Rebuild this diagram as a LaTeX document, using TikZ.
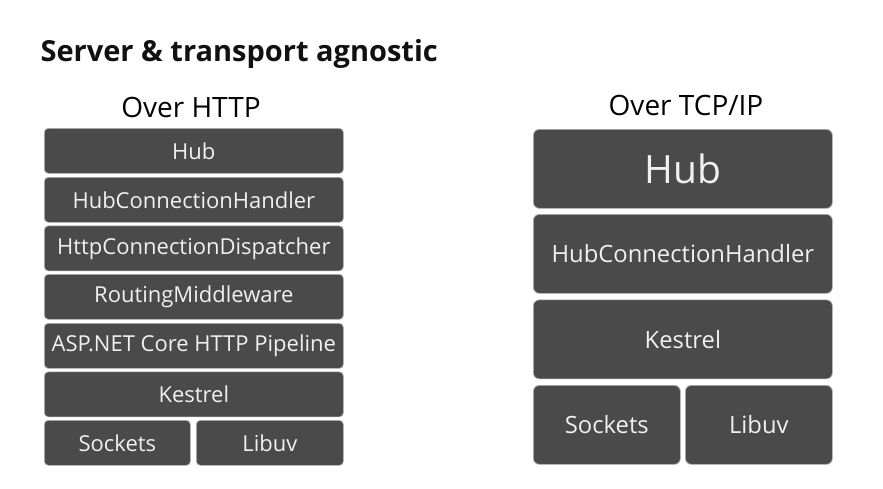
\documentclass[tikz,border=0pt]{standalone}
\usepackage{fontspec}
\setmainfont{Open Sans}
\begin{document}
\begin{tikzpicture}[x=1pt,y=-1pt,
  layer/.style={draw=black!30,line width=0.7pt,fill=boxgray,text=white!94!black,
    rounded corners=#1,inner sep=0pt,anchor=north west},
  layer/.default=4pt,
  smalltxt/.style={font=\fontsize{22}{25}\selectfont},
  bigtxt/.style={font=\fontsize{23.8}{27}\selectfont},
  hdr/.style={font=\fontsize{28}{32}\selectfont,anchor=base},
]
\definecolor{boxgray}{HTML}{4A4A4A}
\definecolor{titlegray}{HTML}{111111}
\useasboundingbox[fill=white] (0,0) rectangle (883,488);
\node[anchor=base west,text=titlegray,font=\bfseries\fontsize{29}{34}\selectfont] (title) at (37,61) {Server \& transport agnostic};
\node[hdr] (hhttp) at (191,117) {Over HTTP};
\node[hdr] (htcp) at (686,115) {Over TCP/IP};
% left stack
\node[layer,smalltxt,minimum width=299pt,minimum height=45pt] (lhub) at (44,128) {Hub};
\node[layer,smalltxt,minimum width=299pt,minimum height=45pt] (lhch) at (44,177) {HubConnectionHandler};
\node[layer,smalltxt,minimum width=299pt,minimum height=45pt] (lhcd) at (44,225.5) {HttpConnectionDispatcher};
\node[layer,smalltxt,minimum width=299pt,minimum height=45pt] (lrm) at (44,274) {RoutingMiddleware};
\node[layer,smalltxt,minimum width=299pt,minimum height=45pt] (lasp) at (44,323) {ASP.NET Core HTTP Pipeline};
\node[layer,smalltxt,minimum width=299pt,minimum height=45pt] (lkes) at (44,371.5) {Kestrel};
\node[layer,smalltxt,minimum width=146pt,minimum height=45pt] (lsock) at (44,420) {Sockets};
\node[layer,smalltxt,minimum width=147pt,minimum height=45pt] (llib) at (196,420) {Libuv};
% right stack
\node[layer=6pt,font=\fontsize{39}{44}\selectfont,minimum width=299pt,minimum height=79pt] (rhub) at (533,129) {Hub};
\node[layer=6pt,bigtxt,minimum width=299pt,minimum height=79pt] (rhch) at (533,214) {HubConnectionHandler};
\node[layer=6pt,bigtxt,minimum width=299pt,minimum height=79pt] (rkes) at (533,299.5) {Kestrel};
\node[layer=6pt,bigtxt,minimum width=147pt,minimum height=79pt] (rsock) at (533,385) {Sockets};
\node[layer=6pt,bigtxt,minimum width=147pt,minimum height=79pt] (rlib) at (685,385) {Libuv};
\end{tikzpicture}
\end{document}
